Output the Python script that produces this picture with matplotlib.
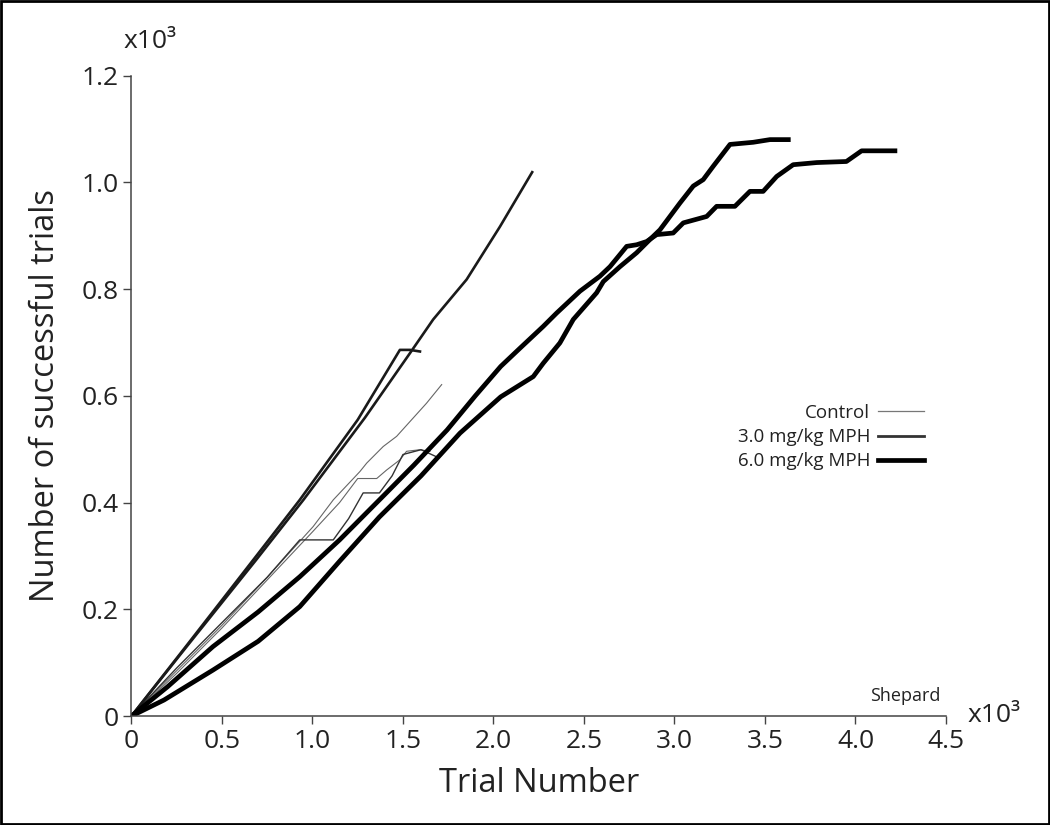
import matplotlib
matplotlib.use('Agg')
from matplotlib import pyplot as plt
from matplotlib.lines import Line2D
from matplotlib.patches import Rectangle

plt.rcParams['font.family'] = ['Open Sans', 'DejaVu Sans']

# данные, x и y в тысячах (x10^3)
# 6.0 mg/kg
ta_x = [0, 0.2, 0.45, 0.7, 0.93, 1.15, 1.37, 1.56, 1.744, 1.9, 2.04, 2.146, 2.275, 2.349, 2.478, 2.588, 2.644,
        2.736, 2.791, 2.846, 2.902, 2.993, 3.049, 3.178, 3.233, 3.334, 3.417, 3.49, 3.565, 3.656, 3.786, 3.95,
        4.034, 4.218]
ta_y = [0, 0.055, 0.13, 0.195, 0.261, 0.33, 0.405, 0.47, 0.536, 0.6, 0.655, 0.689, 0.730, 0.755, 0.796, 0.824,
        0.842, 0.880, 0.883, 0.889, 0.902, 0.905, 0.924, 0.936, 0.955, 0.955, 0.983, 0.983, 1.011, 1.033, 1.037,
        1.039, 1.059, 1.059]
tb_x = [0, 0.18, 0.45, 0.7, 0.93, 1.15, 1.37, 1.6, 1.815, 2.04, 2.22, 2.275, 2.367, 2.441, 2.57, 2.607, 2.699,
        2.791, 2.865, 2.92, 2.975, 3.03, 3.104, 3.159, 3.214, 3.307, 3.435, 3.528, 3.629]
tb_y = [0, 0.03, 0.086, 0.14, 0.205, 0.29, 0.373, 0.45, 0.53, 0.598, 0.636, 0.661, 0.699, 0.743, 0.793, 0.814,
        0.842, 0.868, 0.893, 0.911, 0.936, 0.961, 0.993, 1.005, 1.03, 1.071, 1.075, 1.08, 1.08]

# 3.0 mg/kg
m1_x = [0, 0.3, 0.69, 0.93, 1.25, 1.483, 1.539, 1.594]
m1_y = [0, 0.13, 0.3, 0.405, 0.555, 0.686, 0.686, 0.683]
m2_x = [0, 0.3, 0.69, 0.95, 1.29, 1.539, 1.667, 1.852, 2.036, 2.214]
m2_y = [0, 0.128, 0.293, 0.405, 0.559, 0.68, 0.743, 0.818, 0.917, 1.019]
m3_x = [0, 0.25, 0.5, 0.75, 0.93, 1.115, 1.2, 1.28, 1.37, 1.44, 1.5, 1.6, 1.69]
m3_y = [0, 0.09, 0.175, 0.26, 0.33, 0.33, 0.37, 0.418, 0.418, 0.45, 0.49, 0.499, 0.485]

# Control
c1_x = [0, 0.25, 0.5, 0.75, 1.004, 1.115, 1.262, 1.30, 1.391, 1.465, 1.63, 1.714]
c1_y = [0, 0.085, 0.17, 0.26, 0.355, 0.405, 0.458, 0.474, 0.505, 0.524, 0.586, 0.621]
c2_x = [0, 0.25, 0.5, 0.75, 1.0, 1.15, 1.25, 1.355, 1.41, 1.483, 1.52, 1.594, 1.649]
c2_y = [0, 0.08, 0.165, 0.255, 0.345, 0.40, 0.445, 0.445, 0.461, 0.48, 0.496, 0.499, 0.496]

x_ticks = [0, 0.5, 1.0, 1.5, 2.0, 2.5, 3.0, 3.5, 4.0, 4.5]
x_labels = ['0', '0.5', '1.0', '1.5', '2.0', '2.5', '3.0', '3.5', '4.0', '4.5']
y_ticks = [0, 0.2, 0.4, 0.6, 0.8, 1.0, 1.2]
y_labels = ['0', '0.2', '0.4', '0.6', '0.8', '1.0', '1.2']
leg_labels = ['Control', '3.0 mg/kg MPH', '6.0 mg/kg MPH']

ctrl = dict(color='#666666', lw=0.8)
mid = dict(color='#1a1a1a', lw=1.9)
thick = dict(color='black', lw=3.4)

fig = plt.figure(figsize=(10.5, 8.25), dpi=100)
ax = fig.add_axes([0.1252, 0.1321, 0.7757, 0.7763])

ax.plot(c1_x, c1_y, **ctrl)
ax.plot(c2_x, c2_y, **ctrl)
ax.plot(m3_x, m3_y, **dict(ctrl, color='#333333', lw=1.0))
ax.plot(m1_x, m1_y, **mid)
ax.plot(m2_x, m2_y, **mid)
ax.plot(tb_x, tb_y, **thick)
ax.plot(ta_x, ta_y, **thick)

ax.set_xlim(0, 4.5)
ax.set_ylim(0, 1.2)
ax.set_xticks(x_ticks)
ax.set_xticklabels(x_labels)
ax.set_yticks(y_ticks)
ax.set_yticklabels(y_labels)
for s in ['top', 'right']:
    ax.spines[s].set_visible(False)
for s in ['left', 'bottom']:
    ax.spines[s].set_color('#444444')
    ax.spines[s].set_linewidth(1.1)
ax.tick_params(direction='out', length=5.5, width=1.0, color='#444444', labelsize=19, labelcolor='#222222')
ax.tick_params(axis='x', pad=4)
ax.tick_params(axis='y', pad=4)

ax.set_xlabel('Trial Number', fontsize=23.5, color='#222222', labelpad=9)
ax.set_ylabel('Number of successful trials', fontsize=23.5, color='#222222', labelpad=14)

fig.text(123 / 1050, 1 - 42 / 825, 'x10³', fontsize=19, color='#222222', ha='left', va='center')
fig.text(968 / 1050, 1 - 716 / 825, 'x10³', fontsize=19, color='#222222', ha='left', va='center')
fig.text(940 / 1050, 1 - 696 / 825, 'Shepard', fontsize=13, color='#222222', ha='right', va='center')

handles = [Line2D([], [], color='#777777', lw=0.9),
           Line2D([], [], color='#333333', lw=2.0),
           Line2D([], [], color='black', lw=3.4)]
leg = ax.legend(handles, leg_labels, loc='upper right', bbox_to_anchor=(924 / 1050, 1 - 404 / 825),
                bbox_transform=fig.transFigure, frameon=False, markerfirst=False, fontsize=13.5,
                handlelength=2.45, handletextpad=0.43, labelspacing=0.33, borderpad=0, borderaxespad=0)
for t in leg.get_texts():
    t.set_color('#222222')

# рамка вокруг всей картинки
fig.add_artist(Rectangle((0.001, 0.001), 0.998, 0.998, transform=fig.transFigure, fill=False,
                         edgecolor='black', lw=2.0))

fig.savefig('out.png', dpi=100)
